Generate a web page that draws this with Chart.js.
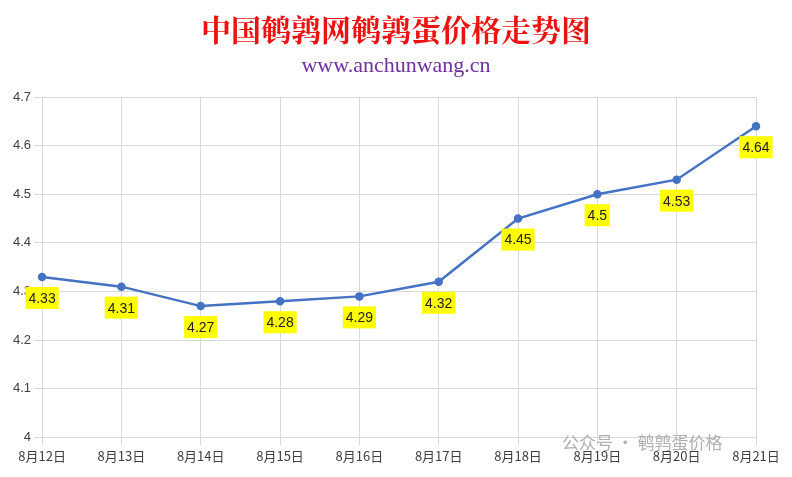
<!DOCTYPE html>
<html><head><meta charset="utf-8">
<script src="https://cdn.jsdelivr.net/npm/chart.js@4"></script>
<style>html,body{margin:0;padding:0;background:#fff}#w{width:792px;height:477px}</style>
</head><body><div id="w"><canvas id="c"></canvas></div>
<script>
const categories = ["8月12日","8月13日","8月14日","8月15日","8月16日","8月17日","8月18日","8月19日","8月20日","8月21日"];
const prices = [4.33,4.31,4.27,4.28,4.29,4.32,4.45,4.5,4.53,4.64];
const priceLabels = ["4.33","4.31","4.27","4.28","4.29","4.32","4.45","4.5","4.53","4.64"];
const titleText = "中国鹌鹑网鹌鹑蛋价格走势图";
const subtitleText = "www.anchunwang.cn";
const watermark = "公众号 · 鹌鹑蛋价格";

const deco = {
  id:'deco',
  afterDraw(chart){
    const ctx = chart.ctx;
    ctx.save();
    ctx.textAlign='center'; ctx.textBaseline='middle';
    ctx.fillStyle='#ee1111';
    ctx.font='bold 30px "Noto Serif CJK SC","Noto Sans CJK SC",serif';
    ctx.fillText(titleText, 396, 30);
    ctx.fillStyle='#7030a0';
    ctx.font='22px "Liberation Serif",serif';
    ctx.fillText(subtitleText, 396, 66);
    ctx.fillStyle='#b0b0b0';
    ctx.font='17px "Noto Sans CJK SC",sans-serif';
    ctx.textAlign='left';
    ctx.fillText(watermark, 562, 443);
    const meta = chart.getDatasetMeta(0);
    ctx.font='14px "Liberation Sans",Arial,sans-serif';
    ctx.textAlign='center';
    meta.data.forEach((p,i)=>{
      const t = priceLabels[i];
      const w = ctx.measureText(t).width + 6;
      const y = p.y + 21;
      ctx.fillStyle='#ffff00';
      ctx.fillRect(p.x - w/2, y-11, w, 22);
      ctx.fillStyle='#222';
      ctx.fillText(t, p.x, y+1);
    });
    ctx.restore();
  }
};

new Chart(document.getElementById('c'), {
  type:'line',
  data:{labels:categories, datasets:[{data:prices, borderColor:'#4472c4', backgroundColor:'#4472c4', borderWidth:2.5, pointRadius:3, pointBackgroundColor:'#4472c4', tension:0}]},
  options:{
    responsive:true, maintainAspectRatio:false, animation:false,
    layout:{padding:{top:97,left:10,right:36,bottom:10}},
    plugins:{legend:{display:false}, tooltip:{enabled:false}},
    scales:{
      x:{offset:false, grid:{color:'#d9d9d9'}, border:{color:'#d9d9d9'},
         ticks:{color:'#404040', font:{size:13,family:'"Noto Sans CJK SC",sans-serif'}, maxRotation:0, autoSkip:false}},
      y:{min:4, max:4.7, grid:{color:'#d9d9d9'}, border:{display:false},
         ticks:{stepSize:0.1, color:'#404040', font:{size:13,family:'"Liberation Sans",Arial'}, callback:v=>Math.round(v*10)/10}}
    }
  },
  plugins:[deco]
});
</script></body></html>
